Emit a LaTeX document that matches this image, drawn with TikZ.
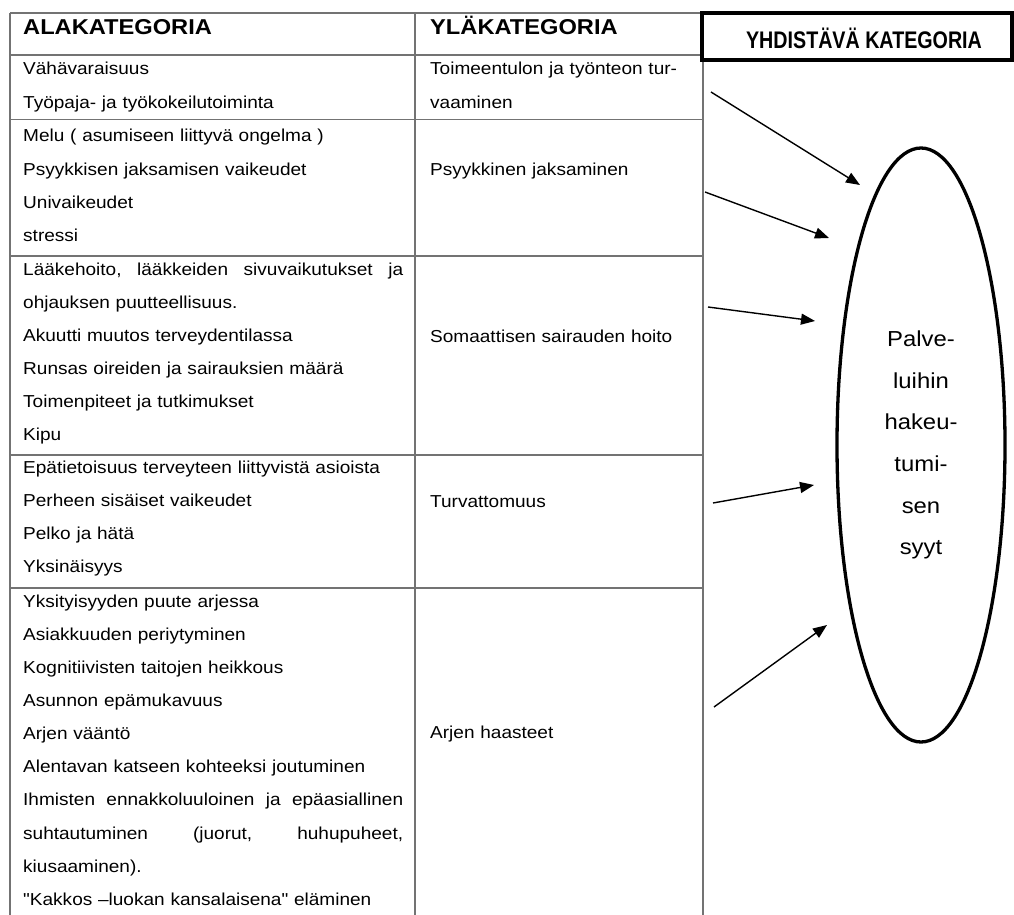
\documentclass[tikz,border=0pt]{standalone}
\usepackage{fontspec}
\setmainfont{Liberation Sans}[FakeStretch=1.1]
\newfontfamily\bodyfont{Liberation Sans}[FakeStretch=1.1]
\newfontfamily\narrowfont{Liberation Sans}[FakeStretch=0.82]
\usetikzlibrary{shapes.geometric,arrows.meta}

\begin{document}
\begin{tikzpicture}[x=1pt, y=-1pt,
	cell/.style = {anchor=base west, inner sep=0pt, text width=385pt, align=left, font=\bodyfont\fontsize{17.3}{33.15}\selectfont},
	head/.style = {anchor=base west, inner sep=0pt, font=\bodyfont\fontsize{21.5}{26}\selectfont\bfseries},
	rule/.style = {draw=black!55, line width=1.2pt},
	catbox/.style = {draw, line width=3.3pt, minimum width=310pt, minimum height=47pt, inner sep=0pt},
	cattext/.style = {inner sep=0pt, font=\narrowfont\fontsize{24}{28}\selectfont\bfseries},
	oval/.style = {draw, ellipse, line width=3.3pt, minimum width=168pt, minimum height=594pt, inner sep=0pt, text width=100pt, align=center, font=\bodyfont\fontsize{21.7}{41.6}\selectfont},
	link/.style = {-{Triangle[length=14pt,width=11pt]}, line width=1.4pt}]
	\useasboundingbox (0,0) rectangle (1014,915);
	\draw[rule] (10,13) -- (703,13);
	\foreach \y in {55,119.5,256,455,588}
		\draw[rule] (10,\y) -- (703,\y);
	\foreach \x in {10,415,703}
		\draw[rule] (\x,13) -- (\x,915);
	\node[head] (ala) at (23,35) {ALAKATEGORIA};
	\node[head] (yla) at (430,35) {YLÄKATEGORIA};
	\node[catbox] (yhdbox) at (857,36.5) {};
	\node[cattext] (yhd) at (864,38.5) {YHDISTÄVÄ KATEGORIA};
	\node[cell] (a1) at (23,75) {Vähävaraisuus\\Työpaja- ja työkokeilutoiminta};
	\node[cell] (a2) at (23,142) {Melu ( asumiseen liittyvä ongelma )\\Psyykkisen jaksamisen vaikeudet\\Univaikeudet\\stressi};
	\node[cell] (a3) at (23,275) {\makebox[380pt][l]{Lääkehoito,\hfill lääkkeiden\hfill sivuvaikutukset\hfill ja}\\ohjauksen puutteellisuus.\\Akuutti muutos terveydentilassa\\Runsas oireiden ja sairauksien määrä\\Toimenpiteet ja tutkimukset\\Kipu};
	\node[cell] (a4) at (23,473) {Epätietoisuus terveyteen liittyvistä asioista\\Perheen sisäiset vaikeudet\\Pelko ja hätä\\Yksinäisyys};
	\node[cell] (a5) at (23,607) {Yksityisyyden puute arjessa\\Asiakkuuden periytyminen\\Kognitiivisten taitojen heikkous\\Asunnon epämukavuus\\Arjen vääntö\\Alentavan katseen kohteeksi joutuminen\\\makebox[380pt][l]{Ihmisten\hfill ennakkoluuloinen\hfill ja\hfill epäasiallinen}\\\makebox[380pt][l]{suhtautuminen\hfill (juorut,\hfill huhupuheet,}\\kiusaaminen).\\"Kakkos –luokan kansalaisena" eläminen};
	\node[cell] (y1) at (430,75) {Toimeentulon ja työnteon tur-\\vaaminen};
	\node[cell] (y2) at (430,175) {Psyykkinen jaksaminen};
	\node[cell] (y3) at (430,342) {Somaattisen sairauden hoito};
	\node[cell] (y4) at (430,507) {Turvattomuus};
	\node[cell] (y5) at (430,738) {Arjen haasteet};
	\node[oval] (oval) at (921,445) {Palve-\\luihin\\hakeu-\\tumi-\\sen\\syyt};
	\coordinate (s1) at (711,92);
	\coordinate (t1) at (860,185);
	\coordinate (s2) at (705,192);
	\coordinate (t2) at (829,238);
	\coordinate (s3) at (708,307);
	\coordinate (t3) at (815,321);
	\coordinate (s4) at (713,503);
	\coordinate (t4) at (814,485);
	\coordinate (s5) at (714,707);
	\coordinate (t5) at (827,625);
	\foreach \i in {1,...,5}
		\draw[link] (s\i) -- (t\i);
\end{tikzpicture}
\end{document}
